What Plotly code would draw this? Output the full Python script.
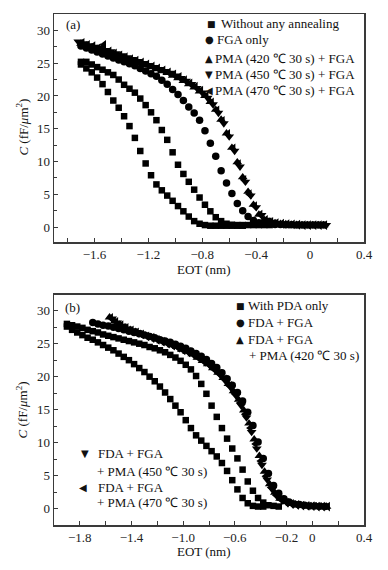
import plotly.graph_objects as go

# ---------------- Panel (a) data ----------------
a_sq1_x = [-1.70, -1.66, -1.62, -1.58, -1.54, -1.50, -1.46, -1.42, -1.38, -1.34, -1.30, -1.26, -1.22, -1.18,
           -1.14, -1.10, -1.06, -1.02, -0.98, -0.94, -0.90, -0.86, -0.82, -0.78, -0.74, -0.70, -0.66, -0.62,
           -0.58, -0.54, -0.50]
a_sq1_y = [24.8, 24.2, 23.6, 22.8, 21.8, 20.6, 19.3, 18.2, 16.9, 15.4, 13.6, 11.6, 9.7, 7.9, 6.5, 5.6, 4.8,
           4.0, 3.2, 2.4, 1.6, 0.9, 0.5, 0.3, 0.2, 0.2, 0.2, 0.2, 0.2, 0.2, 0.2]
a_sq2_x = [-1.70, -1.66, -1.62, -1.58, -1.54, -1.50, -1.46, -1.42, -1.38, -1.34, -1.30, -1.26, -1.22, -1.18,
           -1.14, -1.10, -1.06, -1.02, -0.98, -0.94, -0.90, -0.86, -0.82, -0.78, -0.74, -0.70, -0.66, -0.62,
           -0.58, -0.54, -0.50, -0.46, -0.42, -0.38, -0.34, -0.30]
a_sq2_y = [25.2, 25.2, 24.8, 24.4, 24.0, 23.6, 23.2, 22.5, 21.7, 21.1, 20.5, 19.6, 18.6, 17.5, 16.3, 14.8,
           13.3, 11.4, 9.5, 8.1, 6.9, 5.7, 4.5, 3.4, 2.4, 1.5, 0.9, 0.5, 0.35, 0.3, 0.3, 0.3, 0.3, 0.3, 0.3, 0.3]
a_ci_x = [-1.70, -1.66, -1.62, -1.58, -1.54, -1.50, -1.46, -1.42, -1.38, -1.34, -1.30, -1.26, -1.22, -1.18,
          -1.14, -1.10, -1.06, -1.02, -0.98, -0.94, -0.90, -0.86, -0.82, -0.78, -0.74, -0.70, -0.66, -0.62,
          -0.58, -0.54, -0.50, -0.46, -0.42, -0.38, -0.34, -0.30, -0.26, -0.22, -0.18, -0.14, -0.10, -0.06,
          -0.02, 0.02, 0.06, 0.10]
a_ci_y = [27.6, 27.3, 27.0, 26.7, 26.4, 26.1, 25.8, 25.5, 25.2, 24.9, 24.6, 24.2, 23.8, 23.4, 23.0, 22.4,
          21.8, 21.0, 20.2, 19.3, 18.3, 17.4, 16.3, 14.7, 12.8, 10.8, 8.6, 6.7, 5.1, 3.6, 2.5, 1.6, 1.0, 0.65,
          0.5, 0.45, 0.4, 0.4, 0.35, 0.35, 0.3, 0.3, 0.3, 0.3, 0.3, 0.3]
a_t420_x = [-1.70, -1.66, -1.62, -1.58, -1.54, -1.50, -1.46, -1.42, -1.38, -1.34, -1.30, -1.26, -1.22, -1.18,
            -1.14, -1.10, -1.06, -1.02, -0.98, -0.94, -0.90, -0.86, -0.82, -0.78, -0.74, -0.70, -0.66, -0.62,
            -0.58, -0.54, -0.50, -0.46, -0.42, -0.38, -0.34, -0.30, -0.26, -0.22, -0.18, -0.14, -0.10, -0.06,
            -0.02, 0.02, 0.06, 0.10]
a_t420_y = [28.0, 27.7, 27.4, 27.2, 27.0, 26.6, 26.3, 26.0, 25.8, 25.5, 25.2, 25.0, 24.7, 24.4, 24.1, 23.8,
            23.5, 23.1, 22.7, 22.3, 21.8, 21.3, 20.7, 20.0, 19.1, 17.9, 16.4, 14.3, 12.1, 9.9, 7.6, 5.4, 3.4,
            1.9, 1.1, 0.8, 0.6, 0.5, 0.45, 0.4, 0.35, 0.3, 0.3, 0.3, 0.3, 0.3]
a_t450_x = [-1.72, -1.68, -1.64, -1.60, -1.56, -1.52, -1.48, -1.44, -1.40, -1.36, -1.32, -1.28, -1.24, -1.20,
            -1.16, -1.12, -1.08, -1.04, -1.00, -0.96, -0.92, -0.88, -0.84, -0.80, -0.76, -0.72, -0.68, -0.64,
            -0.60, -0.56, -0.52, -0.48, -0.44, -0.40, -0.36, -0.32, -0.28, -0.24, -0.20, -0.16, -0.12, -0.08,
            -0.04, 0.00, 0.04, 0.08, 0.12]
a_t450_y = [28.3, 28.0, 27.7, 27.5, 27.3, 27.0, 26.8, 26.5, 26.2, 25.9, 25.6, 25.3, 25.0, 24.7, 24.4, 24.1,
            23.8, 23.5, 23.1, 22.7, 22.3, 21.8, 21.2, 20.5, 19.7, 18.7, 17.4, 15.8, 13.8, 11.6, 9.2, 6.9, 4.8,
            3.0, 1.8, 1.1, 0.8, 0.6, 0.5, 0.45, 0.4, 0.35, 0.3, 0.3, 0.3, 0.3, 0.3]
a_t470_x = [-1.69, -1.65, -1.61, -1.57, -1.53, -1.49, -1.45, -1.41, -1.37, -1.33, -1.29, -1.25, -1.21, -1.17,
            -1.13, -1.09, -1.05, -1.01, -0.97, -0.93, -0.89, -0.85, -0.81, -0.77, -0.73, -0.69, -0.65, -0.61,
            -0.57, -0.53, -0.49, -0.45, -0.41, -0.37, -0.33, -0.29, -0.25, -0.21, -0.17, -0.13, -0.09, -0.05,
            -0.01, 0.03, 0.07, 0.11]
a_t470_y = [28.1, 27.8, 27.6, 27.3, 27.8, 26.8, 26.5, 26.2, 25.9, 25.6, 25.4, 25.1, 24.8, 24.5, 24.2, 23.9,
            23.6, 23.3, 22.9, 22.4, 21.9, 21.4, 20.8, 20.0, 19.0, 17.8, 16.2, 14.2, 12.0, 9.6, 7.2, 5.0, 3.2,
            1.9, 1.1, 0.8, 0.6, 0.5, 0.45, 0.4, 0.35, 0.3, 0.3, 0.3, 0.3, 0.3]

# ---------------- Panel (b) data ----------------
b_sq1_x = [-1.90, -1.86, -1.82, -1.78, -1.74, -1.70, -1.66, -1.62, -1.58, -1.54, -1.50, -1.46, -1.42, -1.38,
           -1.34, -1.30, -1.26, -1.22, -1.18, -1.14, -1.10, -1.06, -1.02, -0.98, -0.94, -0.90, -0.86, -0.82,
           -0.78, -0.74, -0.70, -0.66, -0.62, -0.58, -0.54, -0.50, -0.46, -0.42, -0.38]
b_sq1_y = [27.6, 27.1, 26.7, 26.3, 25.9, 25.6, 25.2, 24.8, 24.4, 24.0, 23.5, 23.0, 22.5, 21.9, 21.3, 20.7,
           20.0, 19.3, 18.5, 17.6, 16.6, 15.6, 14.6, 13.4, 12.2, 11.1, 10.3, 9.5, 8.7, 7.9, 6.9, 5.7, 4.3, 2.9,
           1.6, 0.8, 0.4, 0.3, 0.3]
b_sq2_x = [-1.90, -1.86, -1.82, -1.78, -1.74, -1.70, -1.66, -1.62, -1.58, -1.54, -1.50, -1.46, -1.42, -1.38,
           -1.34, -1.30, -1.26, -1.22, -1.18, -1.14, -1.10, -1.06, -1.02, -0.98, -0.94, -0.90, -0.86, -0.82,
           -0.78, -0.74, -0.70, -0.66, -0.62, -0.58, -0.54, -0.50, -0.46, -0.42, -0.38, -0.34, -0.30, -0.26]
b_sq2_y = [28.0, 27.8, 27.6, 27.4, 27.1, 26.9, 26.7, 26.4, 26.2, 26.0, 25.8, 25.6, 25.4, 25.2, 25.0, 24.8,
           24.5, 24.3, 24.0, 23.7, 23.3, 22.9, 22.4, 21.8, 21.1, 20.1, 18.9, 17.4, 15.6, 13.9, 12.2, 10.6, 9.1,
           7.6, 5.9, 4.1, 2.7, 1.6, 0.9, 0.5, 0.4, 0.3]
b_ci_x = [-1.70, -1.66, -1.62, -1.58, -1.54, -1.50, -1.46, -1.42, -1.38, -1.34, -1.30, -1.26, -1.22, -1.18,
          -1.14, -1.10, -1.06, -1.02, -0.98, -0.94, -0.90, -0.86, -0.82, -0.78, -0.74, -0.70, -0.66, -0.62,
          -0.58, -0.54, -0.50, -0.46, -0.42, -0.38, -0.34, -0.30, -0.26, -0.22, -0.18, -0.14, -0.10, -0.06,
          -0.02, 0.02, 0.06, 0.10]
b_ci_y = [28.2, 28.0, 27.8, 27.7, 27.5, 27.3, 27.1, 26.9, 26.7, 26.5, 26.3, 26.1, 25.9, 25.6, 25.4, 25.2,
          24.9, 24.6, 24.3, 23.9, 23.5, 23.1, 22.6, 22.0, 21.4, 20.6, 19.7, 18.7, 17.6, 16.3, 14.6, 12.6, 10.1,
          7.6, 5.3, 3.5, 2.3, 1.5, 1.0, 0.7, 0.6, 0.5, 0.4, 0.4, 0.35, 0.3]
b_t420_x = [-1.57, -1.53, -1.49, -1.45, -1.41, -1.37, -1.33, -1.29, -1.25, -1.21, -1.17, -1.13, -1.09, -1.05,
            -1.01, -0.97, -0.93, -0.89, -0.85, -0.81, -0.77, -0.73, -0.69, -0.65, -0.61, -0.57, -0.53, -0.49,
            -0.45, -0.41, -0.37, -0.33, -0.29, -0.25, -0.21, -0.17, -0.13, -0.09, -0.05, -0.01, 0.03, 0.07, 0.11]
b_t420_y = [29.0, 28.4, 27.9, 27.5, 27.1, 26.8, 26.5, 26.2, 26.0, 25.7, 25.4, 25.1, 24.8, 24.5, 24.1, 23.8,
            23.4, 22.9, 22.4, 21.9, 21.3, 20.6, 19.8, 18.9, 17.8, 16.5, 14.9, 12.9, 10.5, 8.0, 5.6, 3.7, 2.4,
            1.5, 1.0, 0.7, 0.6, 0.5, 0.4, 0.4, 0.35, 0.3, 0.3]
b_t450_x = [-1.55, -1.51, -1.47, -1.43, -1.39, -1.35, -1.31, -1.27, -1.23, -1.19, -1.15, -1.11, -1.07, -1.03,
            -0.99, -0.95, -0.91, -0.87, -0.83, -0.79, -0.75, -0.71, -0.67, -0.63, -0.59, -0.55, -0.51, -0.47,
            -0.43, -0.39, -0.35, -0.31, -0.27, -0.23, -0.19, -0.15, -0.11, -0.07, -0.03, 0.01, 0.05, 0.09]
b_t450_y = [28.8, 28.2, 27.7, 27.3, 27.0, 26.7, 26.4, 26.1, 25.8, 25.6, 25.3, 25.0, 24.7, 24.3, 24.0, 23.6,
            23.2, 22.7, 22.2, 21.6, 21.0, 20.2, 19.3, 18.3, 17.1, 15.6, 13.8, 11.6, 9.1, 6.6, 4.4, 2.9, 1.8,
            1.2, 0.8, 0.6, 0.5, 0.45, 0.4, 0.35, 0.3, 0.3]
b_t470_x = [-1.56, -1.52, -1.48, -1.44, -1.40, -1.36, -1.32, -1.28, -1.24, -1.20, -1.16, -1.12, -1.08, -1.04,
            -1.00, -0.96, -0.92, -0.88, -0.84, -0.80, -0.76, -0.72, -0.68, -0.64, -0.60, -0.56, -0.52, -0.48,
            -0.44, -0.40, -0.36, -0.32, -0.28, -0.24, -0.20, -0.16, -0.12, -0.08, -0.04, 0.00, 0.04, 0.08, 0.12]
b_t470_y = [28.9, 28.3, 27.8, 27.4, 27.0, 26.7, 26.4, 26.1, 25.9, 25.6, 25.3, 25.0, 24.7, 24.4, 24.0, 23.7,
            23.3, 22.8, 22.3, 21.8, 21.1, 20.4, 19.6, 18.6, 17.4, 16.0, 14.3, 12.2, 9.8, 7.2, 4.9, 3.2, 2.0,
            1.3, 0.9, 0.7, 0.55, 0.45, 0.4, 0.35, 0.3, 0.3, 0.3]

# tick labels
a_xtick_vals = [-1.6, -1.2, -0.8, -0.4, 0.0, 0.4]
a_xtick_text = ["\u22121.6", "\u22121.2", "\u22120.8", "\u22120.4", "0", "0.4"]
b_xtick_vals = [-1.8, -1.4, -1.0, -0.6, -0.2, 0.0, 0.4]
b_xtick_text = ["\u22121.8", "\u22121.4", "\u22121.0", "\u22120.6", "\u22120.2", "0", "0.4"]
ytick_vals = [0, 5, 10, 15, 20, 25, 30]

FONT = "Liberation Serif, Times New Roman, serif"
BLACK = "#000000"

W, H = 388, 570
ML, MR, MT, MB = 54, 24, 12, 45


def px(x):
    return (x - ML) / (W - ML - MR)


def py(y):
    return (H - MB - y) / (H - MT - MB)


fig = go.Figure()


def add(xs, ys, symbol, size, xa, ya):
    fig.add_trace(go.Scatter(x=xs, y=ys, mode="markers", xaxis=xa, yaxis=ya, showlegend=False,
                             hoverinfo="skip",
                             marker=dict(symbol=symbol, size=size, color=BLACK, line=dict(width=0))))


SQ, CI, TR = 6.5, 7.5, 8.5
# panel a
add(a_sq1_x, a_sq1_y, "square", SQ, "x", "y")
add(a_sq2_x, a_sq2_y, "square", SQ, "x", "y")
add(a_ci_x, a_ci_y, "circle", CI, "x", "y")
add(a_t420_x, a_t420_y, "triangle-up", TR, "x", "y")
add(a_t450_x, a_t450_y, "triangle-down", TR, "x", "y")
add(a_t470_x, a_t470_y, "triangle-left", TR, "x", "y")
# panel b
add(b_sq1_x, b_sq1_y, "square", SQ, "x2", "y2")
add(b_sq2_x, b_sq2_y, "square", SQ, "x2", "y2")
add(b_ci_x, b_ci_y, "circle", CI, "x2", "y2")
add(b_t420_x, b_t420_y, "triangle-up", TR, "x2", "y2")
add(b_t450_x, b_t450_y, "triangle-down", TR, "x2", "y2")
add(b_t470_x, b_t470_y, "triangle-left", TR, "x2", "y2")

LINE = "#3a3a3a"
axis_common = dict(showline=True, linecolor=LINE, linewidth=1.5, mirror=True, ticks="inside",
                   ticklen=4, tickwidth=1, tickcolor=LINE, showgrid=False, zeroline=False,
                   tickfont=dict(family=FONT, size=13, color="#222"))
xminor = dict(dtick=0.2, tick0=0, ticks="inside", ticklen=4, tickwidth=1, tickcolor=LINE, showgrid=False)
yaxis_common = dict(axis_common, tickvals=ytick_vals, ticktext=[str(v) for v in ytick_vals],
                    minor=dict(dtick=2.5, tick0=0, ticks="inside", ticklen=3, tickcolor=LINE, showgrid=False))

dom_a = [py(241), 1.0]
dom_b = [0.0, py(294)]

fig.update_layout(
    width=W, height=H,
    margin=dict(l=ML, r=MR, t=MT, b=MB, pad=0),
    paper_bgcolor="white", plot_bgcolor="white",
    showlegend=False,
    hovermode=False,
    xaxis=dict(axis_common, domain=[0, 1], anchor="y", range=[-1.9, 0.4],
               tickvals=a_xtick_vals, ticktext=a_xtick_text, minor=xminor),
    yaxis=dict(yaxis_common, domain=dom_a, anchor="x", range=[-2.3, 32.5]),
    xaxis2=dict(axis_common, domain=[0, 1], anchor="y2", range=[-2.0, 0.4],
                tickvals=b_xtick_vals, ticktext=b_xtick_text, minor=xminor),
    yaxis2=dict(yaxis_common, domain=dom_b, anchor="x2", range=[-2.5, 32.4]),
)

ann = []


def text(x, y, s, size=13, anchor="left", family=FONT, angle=0):
    ann.append(dict(xref="paper", yref="paper", x=px(x), y=py(y), text=s, showarrow=False,
                    xanchor=anchor, yanchor="middle", textangle=angle,
                    font=dict(family=family, size=size, color="#111")))


GLYPH = "DejaVu Sans"
# axis titles
text(204, 268, "EOT (nm)", anchor="center")
text(204, 552, "EOT (nm)", anchor="center")
text(22, 126, "<i>C</i> (fF/<i>\u03bc</i>m<sup>2</sup>)", anchor="center", angle=-90)
text(22, 410, "<i>C</i> (fF/<i>\u03bc</i>m<sup>2</sup>)", anchor="center", angle=-90)
# panel labels
text(73, 23, "(a)", anchor="center")
text(72, 307, "(b)", anchor="center")

# legend panel a
text(211.5, 21.7, "\u25a0", size=9, anchor="center", family=GLYPH)
text(218.5, 21.7, "Without any annealing")
text(210, 38, "\u25cf", size=10, anchor="center", family=GLYPH)
text(215, 38, "FGA only")
text(209, 56.5, "\u25b2", size=10, anchor="center", family=GLYPH)
text(213, 56.5, "PMA (420 \u2103 30 s) + FGA")
text(209, 72.5, "\u25bc", size=10, anchor="center", family=GLYPH)
text(213, 72.5, "PMA (450 \u2103 30 s) + FGA")
text(209, 88.5, "\u25c0", size=10, anchor="center", family=GLYPH)
text(213, 88.5, "PMA (470 \u2103 30 s) + FGA")

# legend panel b (top right)
text(240, 305, "\u25a0", size=9, anchor="center", family=GLYPH)
text(246, 305, "With PDA only")
text(240, 321.5, "\u25cf", size=10, anchor="center", family=GLYPH)
text(246, 321.5, "FDA + FGA")
text(240, 339, "\u25b2", size=10, anchor="center", family=GLYPH)
text(246, 339, "FDA + FGA")
text(247, 355, "+ PMA (420 \u2103 30 s)")

# legend panel b (lower left)
text(85, 453.5, "\u25bc", size=10, anchor="center", family=GLYPH)
text(96, 453.5, "FDA + FGA")
text(95, 471, "+ PMA (450 \u2103 30 s)")
text(83, 487, "\u25c0", size=10, anchor="center", family=GLYPH)
text(96, 487, "FDA + FGA")
text(95, 502.5, "+ PMA (470 \u2103 30 s)")

fig.update_layout(annotations=ann)

fig.write_html("out.html",
               config={"displayModeBar": False, "staticPlot": True},
               post_script="document.body.style.margin='0';document.body.style.overflow='hidden';")
